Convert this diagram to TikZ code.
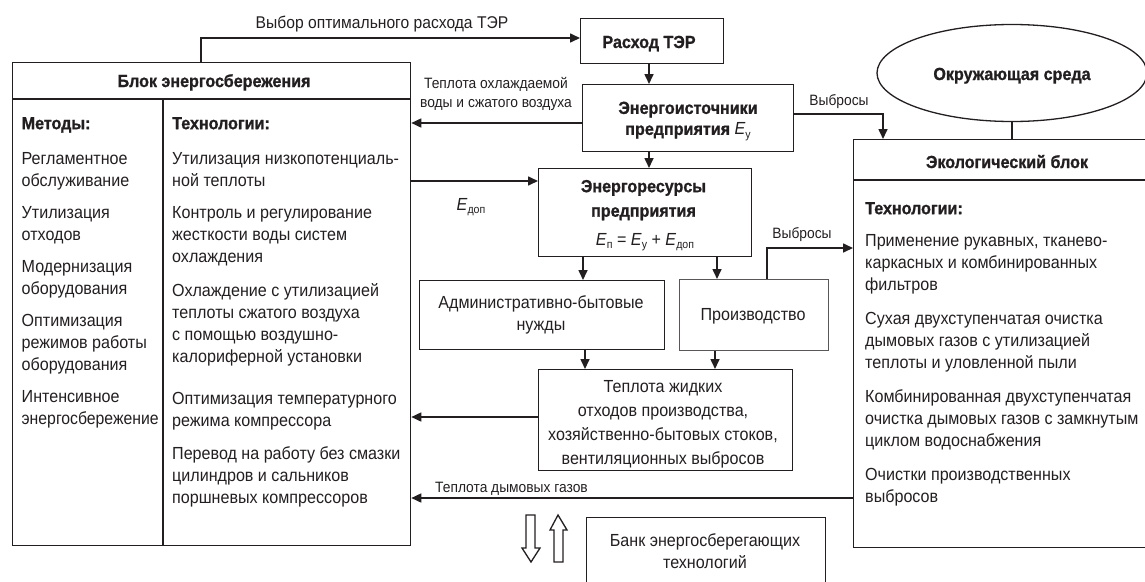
\documentclass[tikz,border=0pt]{standalone}
\usepackage{fontspec}
\setmainfont{Liberation Sans}[FakeStretch=0.92,BoldFeatures={FakeBold=1}]
\usetikzlibrary{arrows.meta,shapes.geometric,calc}
\definecolor{ink}{RGB}{35,31,32}
\newcommand\bodyf{\fontsize{17.5}{22}\selectfont}
\newcommand\labf{\fontsize{15}{19}\selectfont}
\newcommand\Esub[1]{{\mdseries\textit{E}\raisebox{-0.35ex}{\fontsize{11.5}{12}\selectfont #1}}}
\begin{document}
\begin{tikzpicture}[x=1pt,y=-1pt,color=ink,
  box/.style={draw=ink,line width=1.3pt,rectangle,anchor=north west,inner sep=0pt},
  arr/.style={draw=ink,line width=1.6pt,-{Triangle[length=10pt,width=9pt]}},
  rule/.style={draw=ink,line width=1.3pt},
  txt/.style={inner sep=0pt,font=\bodyf},
  btxt/.style={inner sep=0pt,font=\bfseries\bodyf},
  lab/.style={inner sep=0pt,font=\labf}]
\useasboundingbox (0,0) rectangle (1145,581);
\begin{scope}
\clip (0,0) rectangle (1145,581);
% ---------- boxes
\node[box,minimum width=398pt,minimum height=483pt] (save) at (12,62) {};
\node[box,minimum width=143pt,minimum height=45pt] (cost) at (580,18) {};
\node[box,minimum width=211pt,minimum height=67pt] (src) at (582,84) {};
\node[box,minimum width=213pt,minimum height=88pt] (res) at (538,168) {};
\node[box,minimum width=245pt,minimum height=69pt] (admin) at (419,280) {};
\node[box,draw=ink!75,minimum width=149pt,minimum height=71pt] (prod) at (679,279) {};
\node[box,minimum width=254pt,minimum height=101pt] (heat) at (538,369) {};
\node[box,minimum width=310pt,minimum height=408pt] (eco) at (853,139) {};
\node[box,minimum width=239pt,minimum height=100pt] (bank) at (586,517) {};
\node[draw=ink,line width=1.3pt,ellipse,minimum width=270pt,minimum height=97pt,inner sep=0pt] (env) at (1012,73) {};
% ---------- dividers
\coordinate (kM) at (163,99);
\draw[rule] (save.west |- kM) -- (save.east |- kM);
\draw[rule] (kM) -- (kM |- save.south);
\coordinate (kN) at (0,180);
\draw[rule] (eco.west |- kN) -- (eco.east |- kN);
% ---------- helper coordinates
\coordinate (kA) at (201,38);
\coordinate (kB) at (0,123);
\coordinate (kC) at (0,181);
\coordinate (kD) at (883,114);
\coordinate (kE) at (767,248);
\coordinate (kF) at (0,417);
\coordinate (kG) at (0,498);
\coordinate (kH) at (649,0);
\coordinate (kI) at (583,0);
\coordinate (kJ) at (717,0);
\coordinate (kK) at (585,0);
\coordinate (kL) at (715,0);
% ---------- connectors
\draw[arr] (save.north -| kA) |- (cost.west |- kA);
\draw[arr] (cost.south -| kH) -- (src.north -| kH);
\draw[arr] (src.south -| kH) -- (res.north -| kH);
\draw[arr] (src.west |- kB) -- (save.east |- kB);
\draw[arr] (src.east |- kD) -| (eco.north -| kD);
\draw[rule] (env.south) -- (eco.north -| env.south);
\draw[arr] (save.east |- kC) -- (res.west |- kC);
\draw[arr] (res.south -| kI) -- (admin.north -| kI);
\draw[arr] (res.south -| kJ) -- (prod.north -| kJ);
\draw[arr] (prod.north -| kE) |- (eco.west |- kE);
\draw[arr] (admin.south -| kK) -- (heat.north -| kK);
\draw[arr] (prod.south -| kL) -- (heat.north -| kL);
\draw[arr] (heat.west |- kF) -- (save.east |- kF);
\draw[arr] (eco.west |- kG) -- (save.east |- kG);
% ---------- hollow arrows
\draw[rule] (526,515) -- (535,515) -- (535,548) -- (540,548) -- (531,562) -- (522,548) -- (526,548) -- cycle;
\draw[rule] (558,515) -- (567,530) -- (563,530) -- (563,562) -- (554,562) -- (554,530) -- (550,530) -- cycle;
% ---------- titles
\node[btxt,anchor=base] (saveT) at (214,87) {Блок энергосбережения};
\node[btxt,anchor=base] (costT) at (649,48) {Расход ТЭР};
\node[btxt,anchor=base] (ecoT) at (1007,168) {Экологический блок};
\node[btxt,anchor=base] (envT) at (1012,80) {Окружающая среда};
\node[inner sep=0pt,font=\bfseries\fontsize{17.5}{21}\selectfont,anchor=north,align=center] (srcT) at (688,99)
  {\strut Энергоисточники\\предприятия \Esub{у}};
\node[inner sep=0pt,font=\bfseries\fontsize{17.5}{24.5}\selectfont,anchor=north,align=center] (resT) at (643.5,174.85)
  {\strut Энергоресурсы\\предприятия};
\node[txt,anchor=base] (resF) at (645,245) {\Esub{п} = \Esub{у} + \Esub{доп}};
\node[txt,anchor=north,align=center] (adminT) at (541,292.6) {\strut Административно-бытовые\\нужды};
\node[txt,anchor=base] (prodT) at (753,320) {Производство};
\node[inner sep=0pt,font=\fontsize{17.5}{23.8}\selectfont,anchor=north,align=center] (heatT) at (663,376)
  {\strut Теплота жидких\\отходов производства,\\хозяйственно-бытовых стоков,\\вентиляционных выбросов};
\node[inner sep=0pt,font=\fontsize{17.5}{22.5}\selectfont,anchor=north,align=center] (bankT) at (705,530.5)
  {\strut Банк энергосберегающих\\технологий};
% ---------- columns
\node[txt,anchor=north west,align=left] (meth) at (21.5,113.6)
  {\strut\textbf{Методы:}\\[13pt]
   Регламентное\\обслуживание\\[10pt]
   Утилизация\\отходов\\[10pt]
   Модернизация\\оборудования\\[10pt]
   Оптимизация\\режимов работы\\оборудования\\[10pt]
   Интенсивное\\\scalebox{0.98}[1]{энергосбережение}};
\node[txt,anchor=north west,align=left] (tech) at (172,113.6)
  {\strut\textbf{Технологии:}\\[13pt]
   Утилизация низкопотенциаль-\\ной теплоты\\[10pt]
   Контроль и регулирование\\жесткости воды систем\\охлаждения\\[12pt]
   Охлаждение с утилизацией\\теплоты сжатого воздуха\\с помощью воздушно-\\калориферной установки\\[20.5pt]
   Оптимизация температурного\\режима компрессора\\[10.5pt]
   Перевод на работу без смазки\\цилиндров и сальников\\поршневых компрессоров};
\node[txt,anchor=north west,align=left] (ecoTx) at (865,198.6)
  {\strut\textbf{Технологии:}\\[10pt]
   Применение рукавных, тканево-\\каркасных и комбинированных\\фильтров\\[12pt]
   Сухая двухступенчатая очистка\\дымовых газов с утилизацией\\теплоты и уловленной пыли\\[12pt]
   Комбинированная двухступенчатая\\очистка дымовых газов с замкнутым\\циклом водоснабжения\\[12pt]
   Очистки производственных\\выбросов};
% ---------- labels
\node[inner sep=0pt,font=\fontsize{17}{20}\selectfont,anchor=base] (lSel) at (382,28) {Выбор оптимального расхода ТЭР};
\node[lab,anchor=north,align=center] (lHeat) at (496,74.7) {\strut Теплота охлаждаемой\\воды и сжатого воздуха};
\node[lab,anchor=base] (lOut1) at (839,105) {Выбросы};
\node[lab,anchor=base] (lOut2) at (802,238) {Выбросы};
\node[txt,anchor=base] (lEdop) at (471,210) {\Esub{доп}};
\node[lab,anchor=base] (lSmoke) at (511.5,492) {Теплота дымовых газов};
\end{scope}
\end{tikzpicture}
\end{document}
